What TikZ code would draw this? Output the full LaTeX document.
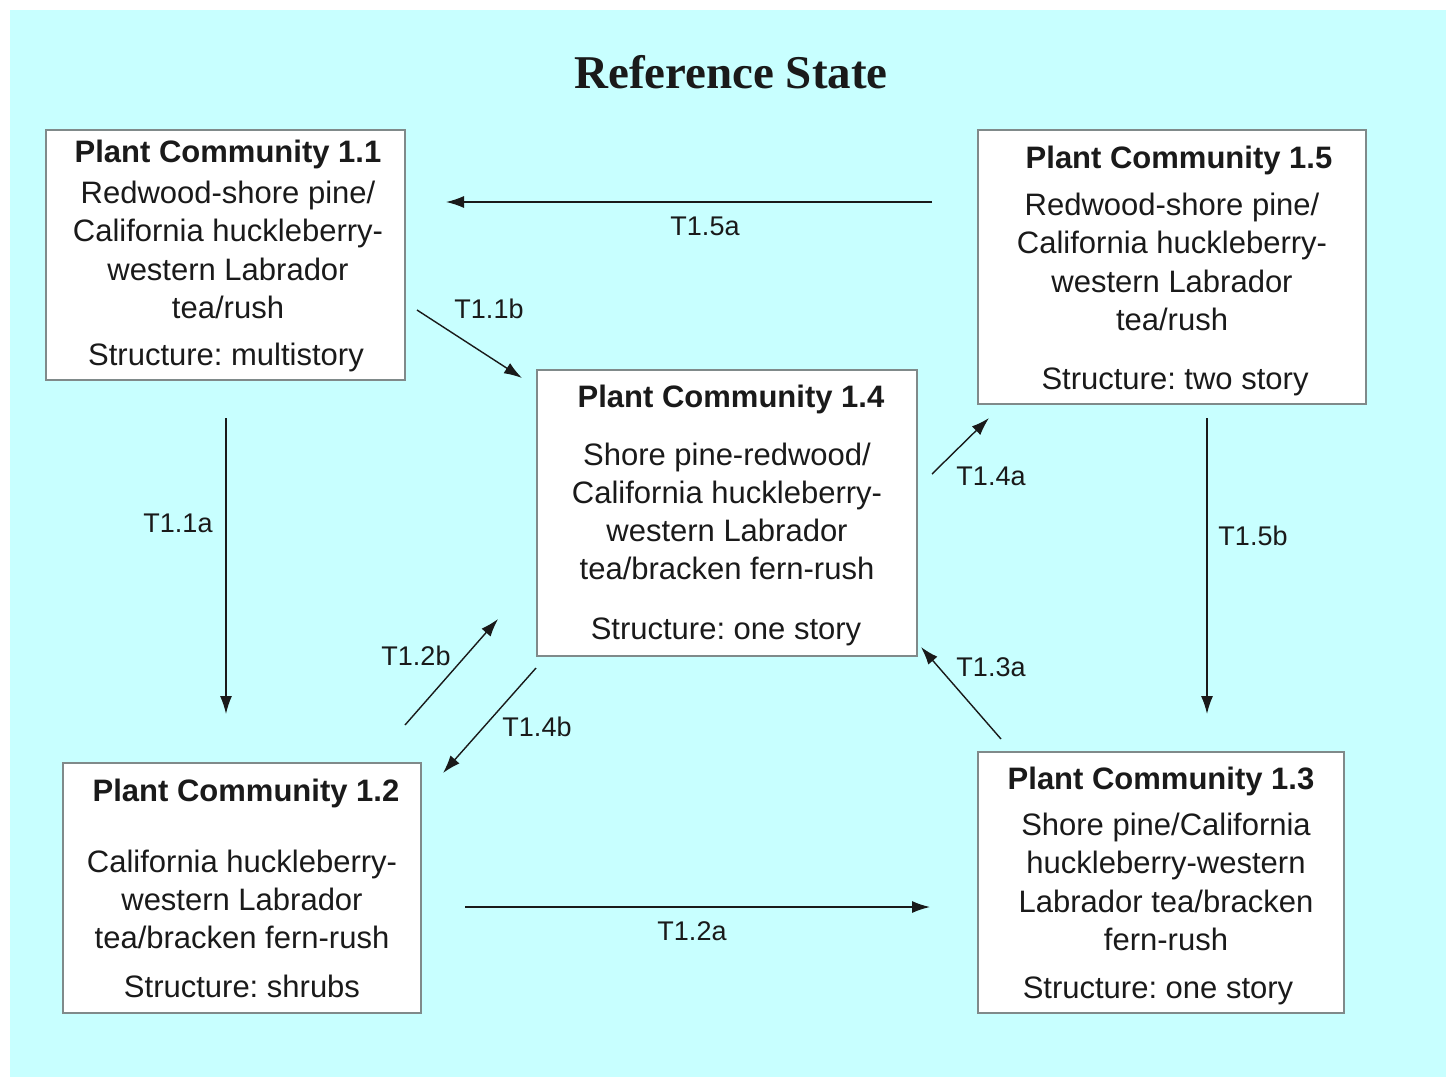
\documentclass[tikz,border=0pt]{standalone}
\usepackage{fontspec}
\setmainfont{Liberation Sans}
\newfontfamily\titlefont{Liberation Serif}
\usetikzlibrary{arrows.meta,fit}
\definecolor{bgcyan}{HTML}{C8FFFF}
\definecolor{boxline}{HTML}{808A8A}
\definecolor{inkc}{HTML}{1A1A1A}
\frenchspacing
\begin{document}
\frenchspacing
\begin{tikzpicture}[x=0.5pt,y=-0.5pt,
  box/.style={draw=boxline, fill=white, line width=0.9pt, inner sep=0pt},
  txt/.style={inner sep=0pt, text=inkc, font=\fontsize{15.5}{18}\selectfont, text height=11pt, text depth=1pt},
  ttl/.style={txt, font=\fontsize{15.5}{18}\selectfont\bfseries},
  lbl/.style={inner sep=0pt, text=inkc, font=\fontsize{13.5}{16}\selectfont, text height=10pt, text depth=1pt},
  arr/.style={draw=inkc, line width=0.7pt, -{Latex[length=9pt,width=6pt]}}
]
\useasboundingbox (0,0) rectangle (1450,1077);
\fill[bgcyan] (10,10) rectangle (1446,1077);

\node[inner sep=0pt, text=inkc, font=\titlefont\fontsize{23.5}{26}\selectfont\bfseries] (title) at (731,72) {Reference State};

% boxes
\node[box, fit={(46,130) (405,380)}] (pc11) {};
\node[box, fit={(978,130) (1366,404)}] (pc15) {};
\node[box, fit={(537,370) (917,656)}] (pc14) {};
\node[box, fit={(63,763) (421,1013)}] (pc12) {};
\node[box, fit={(978,752) (1344,1013)}] (pc13) {};

% PC 1.1
\node[ttl] (t11a) at (228,152) {Plant Community 1.1};
\node[txt] (t11b) at (228,193) {Redwood-shore pine/};
\node[txt] (t11c) at (228,231) {California huckleberry-};
\node[txt] (t11d) at (228,270) {western Labrador};
\node[txt] (t11e) at (228,308) {tea/rush};
\node[txt] (t11f) at (226,355) {Structure: multistory};

% PC 1.5
\node[ttl] (t15a) at (1179,158) {Plant Community 1.5};
\node[txt] (t15b) at (1172,205) {Redwood-shore pine/};
\node[txt] (t15c) at (1172,243) {California huckleberry-};
\node[txt] (t15d) at (1172,282) {western Labrador};
\node[txt] (t15e) at (1172,320) {tea/rush};
\node[txt] (t15f) at (1175,379) {Structure: two story};

% PC 1.4
\node[ttl] (t14a) at (731,397) {Plant Community 1.4};
\node[txt] (t14b) at (727,455) {Shore pine-redwood/};
\node[txt] (t14c) at (727,493) {California huckleberry-};
\node[txt] (t14d) at (727,531) {western Labrador};
\node[txt] (t14e) at (727,569) {tea/bracken fern-rush};
\node[txt] (t14f) at (726,629) {Structure: one story};

% PC 1.2
\node[ttl] (t12a) at (246,791) {Plant Community 1.2};
\node[txt] (t12b) at (242,862) {California huckleberry-};
\node[txt] (t12c) at (242,900) {western Labrador};
\node[txt] (t12d) at (242,938) {tea/bracken fern-rush};
\node[txt] (t12e) at (242,987) {Structure: shrubs};

% PC 1.3
\node[ttl] (t13a) at (1161,779) {Plant Community 1.3};
\node[txt] (t13b) at (1166,825) {Shore pine/California};
\node[txt] (t13c) at (1166,863) {huckleberry-western};
\node[txt] (t13d) at (1166,902) {Labrador tea/bracken};
\node[txt] (t13e) at (1166,940) {fern-rush};
\node[txt] (t13f) at (1158,988) {Structure: one story};

% arrow end coordinates
\coordinate (a15s) at (932,202);  \coordinate (a15e) at (446,202);
\coordinate (a11bs) at (417,310); \coordinate (a11be) at (522,378);
\coordinate (a11as) at (226,418); \coordinate (a11ae) at (226,714);
\coordinate (a14as) at (932,474); \coordinate (a14ae) at (989,418);
\coordinate (a15bs) at (1207,418);\coordinate (a15be) at (1207,714);
\coordinate (a12bs) at (405,725); \coordinate (a12be) at (498,619);
\coordinate (a14bs) at (536,668); \coordinate (a14be) at (443,773);
\coordinate (a13s) at (1001,739); \coordinate (a13e) at (921,647);
\coordinate (a12as) at (465,907); \coordinate (a12ae) at (930,907);

\draw[arr] (a15s) -- (a15e);
\draw[arr] (a11bs) -- (a11be);
\draw[arr] (a11as) -- (a11ae);
\draw[arr] (a14as) -- (a14ae);
\draw[arr] (a15bs) -- (a15be);
\draw[arr] (a12bs) -- (a12be);
\draw[arr] (a14bs) -- (a14be);
\draw[arr] (a13s) -- (a13e);
\draw[arr] (a12as) -- (a12ae);

% labels
\node[lbl] (l15a) at (705,226) {T1.5a};
\node[lbl] (l11b) at (489,309) {T1.1b};
\node[lbl] (l11a) at (178,523) {T1.1a};
\node[lbl] (l14a) at (991,476) {T1.4a};
\node[lbl] (l15b) at (1253,536) {T1.5b};
\node[lbl] (l12b) at (416,656) {T1.2b};
\node[lbl] (l14b) at (537,727) {T1.4b};
\node[lbl] (l13a) at (991,667) {T1.3a};
\node[lbl] (l12a) at (692,931) {T1.2a};
\end{tikzpicture}
\end{document}
